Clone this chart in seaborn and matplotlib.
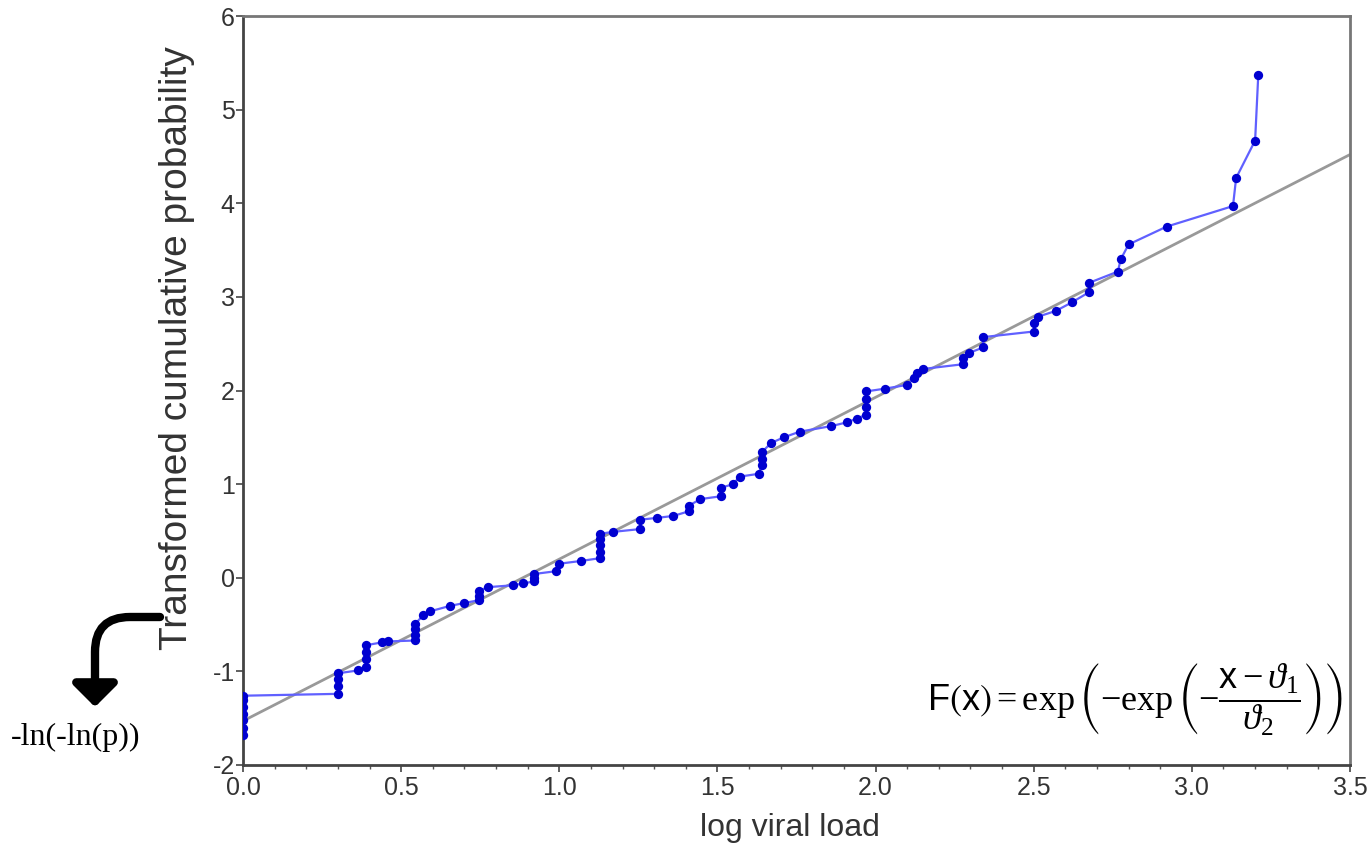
import numpy as np
import pandas as pd
import matplotlib
matplotlib.use("Agg")
import matplotlib.pyplot as plt
import seaborn as sns
from matplotlib.ticker import MultipleLocator

# ---- data ----
log_viral_load = [
    0, 0, 0, 0, 0, 0, 0,
    0.301, 0.301, 0.301, 0.301,
    0.364,
    0.39, 0.39, 0.39, 0.39,
    0.44, 0.46,
    0.545, 0.545, 0.545, 0.545,
    0.57, 0.59, 0.655, 0.70,
    0.745, 0.745, 0.745,
    0.776, 0.855, 0.886,
    0.92, 0.92, 0.92,
    0.99, 1.0, 1.07,
    1.13, 1.13, 1.13, 1.13, 1.13,
    1.17,
    1.256, 1.256,
    1.31, 1.36,
    1.41, 1.41,
    1.446,
    1.51, 1.51,
    1.55, 1.57, 1.63,
    1.64, 1.64, 1.64,
    1.67, 1.71, 1.76, 1.86, 1.91, 1.94,
    1.97, 1.97, 1.97, 1.97,
    2.03, 2.10, 2.12, 2.13, 2.15,
    2.275, 2.275,
    2.295,
    2.34, 2.34,
    2.50, 2.50,
    2.515, 2.57, 2.62,
    2.675, 2.675,
    2.766, 2.775, 2.80, 2.92, 3.13, 3.14, 3.20, 3.21,
]
transformed_prob = [
    -1.68, -1.60, -1.52, -1.45, -1.38, -1.31, -1.26,
    -1.24, -1.16, -1.08, -1.02,
    -0.99,
    -0.95, -0.87, -0.79, -0.72,
    -0.69, -0.68,
    -0.67, -0.61, -0.55, -0.49,
    -0.40, -0.36, -0.30, -0.27,
    -0.24, -0.19, -0.14,
    -0.10, -0.08, -0.06,
    -0.04, 0.00, 0.04,
    0.07, 0.15, 0.18,
    0.21, 0.28, 0.35, 0.41, 0.47,
    0.49,
    0.52, 0.62,
    0.64, 0.66,
    0.71, 0.77,
    0.84,
    0.87, 0.96,
    1.00, 1.08, 1.11,
    1.20, 1.27, 1.34,
    1.44, 1.50, 1.56, 1.62, 1.66, 1.70,
    1.74, 1.82, 1.91, 1.99,
    2.02, 2.06, 2.13, 2.19, 2.23,
    2.28, 2.35,
    2.40,
    2.46, 2.57,
    2.63, 2.72,
    2.79, 2.85, 2.94,
    3.05, 3.15,
    3.27, 3.40, 3.56, 3.75, 3.97, 4.27, 4.67, 5.37,
]
fit_x = [0.0, 3.5]
fit_y = [-1.53, 4.52]

x_ticks = [0.0, 0.5, 1.0, 1.5, 2.0, 2.5, 3.0, 3.5]
x_tick_labels = ["0.0", "0.5", "1.0", "1.5", "2.0", "2.5", "3.0", "3.5"]
y_ticks = [-2, -1, 0, 1, 2, 3, 4, 5, 6]
y_tick_labels = ["-2", "-1", "0", "1", "2", "3", "4", "5", "6"]

df = pd.DataFrame({"x": log_viral_load, "y": transformed_prob})
fit = pd.DataFrame({"x": fit_x, "y": fit_y})

# ---- plotting ----
sns.set_style("white")
plt.rcParams["font.family"] = ["Liberation Sans", "DejaVu Sans"]
plt.rcParams["mathtext.fontset"] = "custom"
plt.rcParams["mathtext.rm"] = "Liberation Serif"
plt.rcParams["mathtext.it"] = "Liberation Serif:italic"
plt.rcParams["mathtext.sf"] = "Liberation Sans"
plt.rcParams["mathtext.fallback"] = "stix"

fig = plt.figure(figsize=(13.67, 8.5), dpi=100)
ax = fig.add_axes([243 / 1367, 1 - 765 / 850, (1350 - 243) / 1367, (765 - 16) / 850])

sns.lineplot(data=fit, x="x", y="y", ax=ax, color="#999999", lw=2.0,
             estimator=None, sort=False)
sns.lineplot(data=df, x="x", y="y", ax=ax, color="#6060ff", lw=1.6,
             estimator=None, sort=False)
sns.scatterplot(data=df, x="x", y="y", ax=ax, color="#0000d0", s=45,
                edgecolor="#0000d0", linewidth=0, zorder=3)

ax.set_xlim(0, 3.5)
ax.set_ylim(-2, 6)
ax.set_xticks(x_ticks)
ax.set_xticklabels(x_tick_labels)
ax.set_yticks(y_ticks)
ax.set_yticklabels(y_tick_labels)
ax.xaxis.set_minor_locator(MultipleLocator(0.1))
ax.tick_params(axis="both", which="major", direction="out", length=5, width=1.2,
               color="#444444", labelsize=18, labelcolor="#333333", pad=1)
ax.tick_params(axis="x", which="major", pad=3)
ax.tick_params(axis="x", which="minor", direction="out", length=3, width=1,
               color="#555555", bottom=True)
ax.tick_params(axis="x", which="both", bottom=True)
ax.tick_params(axis="y", which="both", left=True)

for side, sp in ax.spines.items():
    sp.set_visible(True)
    sp.set_color("#444444" if side in ("left", "bottom") else "#777777")
    sp.set_linewidth(2.0)

ax.set_xlabel("log viral load", fontsize=23, color="#333333")
ax.set_ylabel("Transformed cumulative probability", fontsize=28, color="#333333")
ax.xaxis.set_label_coords(0.494, -0.064)
ax.yaxis.set_label_coords(-0.043, 0.557)

# formula
ax.text(0.806, 0.088,
        r"$\mathsf{F}\left(\mathsf{x}\right)=\exp\left(-\exp\left(-\dfrac{\mathsf{x}-\vartheta_1}{\vartheta_2}\right)\right)$",
        transform=ax.transAxes, ha="center", va="center", fontsize=26, color="black")

# annotation arrow and text
ax.annotate("", xy=(95, 850 - 707), xytext=(160, 850 - 617),
            xycoords="figure pixels", textcoords="figure pixels",
            arrowprops=dict(arrowstyle="-|>,head_width=0.45,head_length=0.45",
                            lw=6, color="black", shrinkA=0, shrinkB=0,
                            mutation_scale=30,
                            connectionstyle="angle,angleA=0,angleB=90,rad=35"),
            annotation_clip=False)
fig.text(76 / 1367, 1 - 737 / 850, "-ln(-ln(p))", ha="center", va="center",
         fontsize=23, family=["Liberation Serif", "DejaVu Serif"], color="black")

fig.savefig("out.png", dpi=100)
